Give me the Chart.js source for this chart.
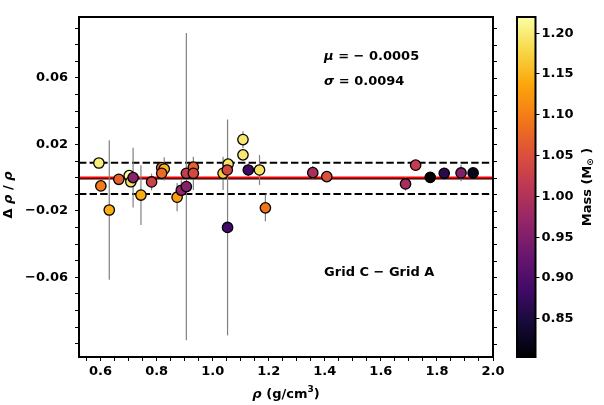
<!DOCTYPE html>
<html>
<head>
<meta charset="utf-8">
<script src="https://cdn.jsdelivr.net/npm/chart.js@4.4.0/dist/chart.umd.min.js"></script>
<style>
  html, body { margin: 0; padding: 0; background: #fff; }
  #wrap { width: 604px; height: 405px; }
</style>
</head>
<body>
<div id="wrap"><canvas id="chart" width="604" height="405"></canvas></div>
<script>
// Data
const density = [0.594, 0.601, 0.631, 0.665, 0.702, 0.708, 0.716, 0.744, 0.782, 0.818,
                 0.827, 0.818, 0.873, 0.888, 0.906, 0.906, 0.931, 0.931, 1.037, 1.055,
                 1.052, 1.053, 1.108, 1.108, 1.127, 1.167, 1.188, 1.357, 1.407, 1.688,
                 1.724, 1.776, 1.826, 1.886, 1.929];
const dRho = [0.0088, -0.0050, -0.0195, -0.0010, 0.0012, -0.0025, 0.0000, -0.0105, -0.0026, 0.0060,
              0.0052, 0.0026, -0.0118, -0.0076, -0.0054, 0.0026, 0.0063, 0.0026, 0.0026, 0.0081,
              0.0046, -0.0300, 0.0229, 0.0137, 0.0046, 0.0046, -0.0182, 0.0030, 0.0006, -0.0038,
              0.0075, 0.0002, 0.0026, 0.0028, 0.0028];
const dRhoErr = [0.003, 0.002, 0.042, 0.002, 0.002, 0.002, 0.018, 0.018, 0.005, 0.002,
                 0.007, 0.002, 0.0085, 0.006, 0.0925, 0.002, 0.002, 0.010, 0.010, 0.002,
                 0.002, 0.065, 0.005, 0.002, 0.004, 0.009, 0.008, 0.004, 0.002, 0.004,
                 0.002, 0.002, 0.002, 0.005, 0.002];
const mass = [1.200, 1.095, 1.143, 1.070, 1.219, 1.190, 0.960, 1.140, 1.030, 1.090,
              1.150, 1.080, 1.130, 0.970, 0.955, 1.020, 1.070, 1.040, 1.170, 1.190,
              1.040, 0.885, 1.195, 1.195, 0.880, 1.190, 1.090, 0.990, 1.050, 0.990,
              1.020, 0.8026, 0.860, 0.950, 0.820];

const mu = -0.0005;
const sigma = 0.0094;

const xTickLabels = [0.6, 0.8, 1.0, 1.2, 1.4, 1.6, 1.8, 2.0];
const yTickLabels = [0.06, 0.02, -0.02, -0.06];
const cbTickLabels = [0.85, 0.90, 0.95, 1.00, 1.05, 1.10, 1.15, 1.20];

const FONT = "'DejaVu Sans', sans-serif";

// inferno colormap (sampled)
const infernoStops = [
  [0.0, [0, 0, 4]], [0.1, [22, 11, 57]], [0.2, [66, 10, 104]], [0.3, [106, 23, 110]],
  [0.4, [147, 38, 103]], [0.5, [188, 55, 84]], [0.6, [221, 81, 58]], [0.7, [243, 120, 25]],
  [0.8, [252, 165, 10]], [0.9, [246, 215, 70]], [1.0, [252, 255, 164]]
];
function inferno(t) {
  t = Math.max(0, Math.min(1, t));
  for (let i = 1; i < infernoStops.length; i++) {
    if (t <= infernoStops[i][0]) {
      const [t0, c0] = infernoStops[i - 1], [t1, c1] = infernoStops[i];
      const f = (t - t0) / (t1 - t0);
      const c = c0.map((v, k) => Math.round(v + (c1[k] - v) * f));
      return `rgb(${c[0]},${c[1]},${c[2]})`;
    }
  }
  return 'rgb(252,255,164)';
}
const mMin = Math.min(...mass), mMax = Math.max(...mass);
const pointColors = mass.map(m => inferno((m - mMin) / (mMax - mMin)));

function fmt(v) { return v.toFixed(2).replace('-', '\u2212'); }
function near(a, b) { return Math.abs(a - b) < 1e-6; }

// draw a row of text pieces [text, italic, size, dy]
function drawPieces(ctx, pieces, x, y, size, align) {
  let total = 0;
  pieces.forEach(p => {
    ctx.font = `${p[1] ? 'italic ' : ''}bold ${p[2] || size}px ${FONT}`;
    total += ctx.measureText(p[0]).width;
  });
  let cx = align === 'center' ? x - total / 2 : x;
  ctx.textAlign = 'left';
  pieces.forEach(p => {
    ctx.font = `${p[1] ? 'italic ' : ''}bold ${p[2] || size}px ${FONT}`;
    ctx.fillText(p[0], cx, y + (p[3] || 0));
    cx += ctx.measureText(p[0]).width;
  });
}

const extras = {
  id: 'extras',
  beforeDatasetsDraw(chart) {
    const { ctx, chartArea: a, scales: { x, y } } = chart;
    ctx.save();
    ctx.beginPath();
    ctx.rect(a.left, a.top, a.right - a.left, a.bottom - a.top);
    ctx.clip();
    // dashed mu +/- sigma
    ctx.strokeStyle = '#000';
    ctx.lineWidth = 2;
    ctx.setLineDash([7.4, 3.2]);
    [mu + sigma, mu - sigma].forEach(v => {
      const py = y.getPixelForValue(v);
      ctx.beginPath(); ctx.moveTo(a.left, py); ctx.lineTo(a.right, py); ctx.stroke();
    });
    ctx.setLineDash([]);
    // mean line, then zero line
    let py = y.getPixelForValue(mu);
    ctx.beginPath(); ctx.moveTo(a.left, py); ctx.lineTo(a.right, py); ctx.stroke();
    ctx.strokeStyle = '#ff0000';
    py = y.getPixelForValue(0);
    ctx.beginPath(); ctx.moveTo(a.left, py); ctx.lineTo(a.right, py); ctx.stroke();
    // error bars
    ctx.strokeStyle = '#808080';
    ctx.lineWidth = 1.2;
    density.forEach((d, i) => {
      const px = x.getPixelForValue(d);
      ctx.beginPath();
      ctx.moveTo(px, y.getPixelForValue(dRho[i] + dRhoErr[i]));
      ctx.lineTo(px, y.getPixelForValue(dRho[i] - dRhoErr[i]));
      ctx.stroke();
    });
    ctx.restore();
  },
  afterDraw(chart) {
    const { ctx, chartArea: a, scales: { y } } = chart;
    ctx.save();
    // frame
    ctx.strokeStyle = '#000';
    ctx.lineWidth = 2;
    ctx.strokeRect(a.left, a.top, a.right - a.left, a.bottom - a.top);
    // right side ticks
    ctx.lineWidth = 1;
    y.ticks.forEach(t => {
      const py = Math.round(y.getPixelForValue(t.value)) + 0.5;
      ctx.beginPath(); ctx.moveTo(a.right, py); ctx.lineTo(a.right + 4, py); ctx.stroke();
    });
    ctx.fillStyle = '#000';
    ctx.textBaseline = 'middle';
    const w = a.right - a.left, h = a.bottom - a.top;
    // annotations
    drawPieces(ctx, [['\u03bc', true], [' = \u2212 0.0005', false]], a.left + 0.592 * w, a.top + 0.117 * h, 13);
    drawPieces(ctx, [['\u03c3', true], [' = 0.0094', false]], a.left + 0.592 * w, a.top + 0.189 * h, 13);
    drawPieces(ctx, [['Grid C \u2212 Grid A', false]], a.left + 0.592 * w, a.top + 0.753 * h, 13);
    // x label
    drawPieces(ctx, [['\u03c1', true], [' (g/cm', false], ['3', false, 9, -5], [')', false]], 286, 395, 13, 'center');
    // y label
    ctx.save();
    ctx.translate(9, 195);
    ctx.rotate(-Math.PI / 2);
    drawPieces(ctx, [['\u0394 ', false], ['\u03c1', true], [' / ', false], ['\u03c1', true]], 0, 0, 13, 'center');
    ctx.restore();
    // colorbar
    const cbL = 517, cbR = 535.5, cbT = a.top, cbB = a.bottom;
    const grad = ctx.createLinearGradient(0, cbB, 0, cbT);
    infernoStops.forEach(s => grad.addColorStop(s[0], `rgb(${s[1].join(',')})`));
    ctx.fillStyle = grad;
    ctx.fillRect(cbL, cbT, cbR - cbL, cbB - cbT);
    ctx.strokeStyle = '#000';
    ctx.lineWidth = 2;
    ctx.strokeRect(cbL, cbT, cbR - cbL, cbB - cbT);
    ctx.lineWidth = 1;
    ctx.fillStyle = '#000';
    ctx.font = `bold 13px ${FONT}`;
    ctx.textAlign = 'left';
    cbTickLabels.forEach(m => {
      const py = Math.round(cbB - (m - mMin) / (mMax - mMin) * (cbB - cbT)) + 0.5;
      ctx.beginPath(); ctx.moveTo(cbR, py); ctx.lineTo(cbR + 4, py); ctx.stroke();
      ctx.fillText(m.toFixed(2), cbR + 6, py);
    });
    ctx.save();
    ctx.translate(588, 187);
    ctx.rotate(-Math.PI / 2);
    drawPieces(ctx, [['Mass (M', false], ['\u2299', false, 9, 3], [' )', false]], 0, 0, 13, 'center');
    ctx.restore();
    ctx.restore();
  }
};

new Chart(document.getElementById('chart'), {
  type: 'scatter',
  data: {
    datasets: [{
      data: density.map((d, i) => ({ x: d, y: dRho[i] })),
      pointRadius: 5.2,
      pointHoverRadius: 5.2,
      pointBackgroundColor: pointColors,
      pointBorderColor: '#000',
      pointBorderWidth: 1.3
    }]
  },
  options: {
    responsive: false,
    animation: false,
    events: [],
    layout: { padding: { left: 0, top: 17, right: 111, bottom: 0 } },
    plugins: { legend: { display: false }, tooltip: { enabled: false } },
    scales: {
      x: {
        type: 'linear', min: 0.523, max: 2.0,
        grid: { drawOnChartArea: false, drawTicks: true, tickLength: 4, color: '#000' },
        border: { display: false },
        ticks: {
          color: '#000', padding: 3, maxRotation: 0, autoSkip: false,
          font: { family: FONT, size: 13, weight: 'bold' },
          callback: v => xTickLabels.some(t => near(t, v)) ? v.toFixed(1) : ''
        },
        afterBuildTicks: s => {
          const t = [];
          for (let k = 11; k <= 40; k++) t.push({ value: k * 0.05 });
          s.ticks = t;
        },
        afterFit: s => { s.height = 48; }
      },
      y: {
        type: 'linear', min: -0.108, max: 0.0967,
        grid: { drawOnChartArea: false, drawTicks: true, tickLength: 4, color: '#000' },
        border: { display: false },
        ticks: {
          color: '#000', padding: 7, autoSkip: false,
          font: { family: FONT, size: 13, weight: 'bold' },
          callback: v => yTickLabels.some(t => near(t, v)) ? fmt(v) : ''
        },
        afterBuildTicks: s => {
          const t = [];
          for (let k = -10; k <= 9; k++) t.push({ value: k * 0.01 });
          s.ticks = t;
        },
        afterFit: s => { s.width = 79; }
      }
    }
  },
  plugins: [extras]
});
</script>
</body>
</html>
